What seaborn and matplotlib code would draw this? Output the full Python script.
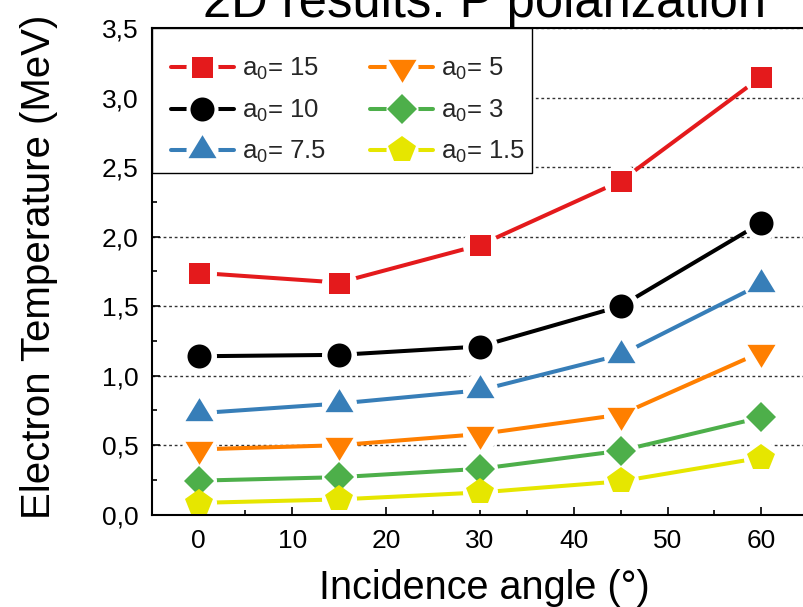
import numpy as np
import pandas as pd
import matplotlib
matplotlib.use("Agg")
import matplotlib.pyplot as plt
import seaborn as sns
from matplotlib.path import Path
from matplotlib.patches import Rectangle
from matplotlib.ticker import MultipleLocator, FuncFormatter
from matplotlib.legend_handler import HandlerTuple
from matplotlib.lines import Line2D

# ---------------- data ----------------
angles = [0, 15, 30, 45, 60]
a0_labels = ["15", "10", "7.5", "5", "3", "1.5"]
temp_a15 = [1.74, 1.67, 1.94, 2.40, 3.15]
temp_a10 = [1.14, 1.15, 1.21, 1.50, 2.10]
temp_a7_5 = [0.73, 0.80, 0.895, 1.15, 1.66]
temp_a5 = [0.47, 0.50, 0.58, 0.72, 1.17]
temp_a3 = [0.245, 0.27, 0.33, 0.46, 0.70]
temp_a1_5 = [0.085, 0.11, 0.16, 0.24, 0.41]
title = "2D results: P polarization"
xlabel = "Incidence angle (°)"
ylabel = "Electron Temperature (MeV)"

# ---------------- style ----------------
sns.set_theme(style="white")
plt.rcParams["font.family"] = ["Liberation Sans", "DejaVu Sans"]
plt.rcParams["mathtext.fontset"] = "custom"
plt.rcParams["mathtext.rm"] = "Liberation Sans"
plt.rcParams["mathtext.it"] = "Liberation Sans:italic"
plt.rcParams["mathtext.bf"] = "Liberation Sans:bold"
plt.rcParams["mathtext.default"] = "rm"

PX = 72.0 / 100.0  # points per pixel at dpi 100

tri_up = Path([(0, 15.33), (-14, -7.67), (14, -7.67), (0, 15.33)],
              [Path.MOVETO, Path.LINETO, Path.LINETO, Path.CLOSEPOLY])
tri_dn = Path([(0, -15.33), (-14, 7.67), (14, 7.67), (0, -15.33)],
              [Path.MOVETO, Path.LINETO, Path.LINETO, Path.CLOSEPOLY])

series_values = [temp_a15, temp_a10, temp_a7_5, temp_a5, temp_a3, temp_a1_5]
colors = ["#E41A1C", "#000000", "#377EB8", "#FF7F00", "#4DAF4A", "#E6E600"]
markers = ["s", "o", tri_up, tri_dn, "D", "p"]
msizes = [21 * PX, 24 * PX, 30.67 * PX, 30.67 * PX, 21.2 * PX, 28.4 * PX]
LW = 2.9
GAP = 35 * PX

fig = plt.figure(figsize=(8.04, 6.07), dpi=100)
ax = fig.add_axes([151.6 / 804, 92.3 / 607, 666 / 804, 486.5 / 607])

for vals, c in zip(series_values, colors):
    sns.lineplot(x=angles, y=vals, color=c, lw=LW, ax=ax, zorder=2,
                 errorbar=None, legend=False)
for vals in series_values:
    sns.lineplot(x=angles, y=vals, color="white", marker="o", linestyle="",
                 markersize=GAP, markeredgewidth=0, ax=ax, zorder=2.4,
                 errorbar=None, legend=False)
for vals, c, m, ms in zip(series_values, colors, markers, msizes):
    sns.lineplot(x=angles, y=vals, color=c, marker=m, linestyle="",
                 markersize=ms, markeredgewidth=0, ax=ax, zorder=3,
                 errorbar=None, legend=False, clip_on=False)

ax.set_xlim(-5, 66)
ax.set_ylim(0, 3.5)
ax.xaxis.set_major_locator(MultipleLocator(10))
ax.xaxis.set_minor_locator(MultipleLocator(5))
ax.yaxis.set_major_locator(MultipleLocator(0.5))
ax.yaxis.set_minor_locator(MultipleLocator(0.25))
ax.yaxis.set_major_formatter(FuncFormatter(lambda v, p: f"{v:.1f}".replace(".", ",")))
ax.tick_params(which="both", direction="in", top=False, right=False,
               bottom=True, left=True, color="black", width=1.2)
ax.tick_params(which="major", length=6, labelsize=19, labelcolor="black")
ax.tick_params(which="minor", length=3.5)
ax.tick_params(axis="x", which="major", pad=10.0)
ax.tick_params(axis="y", which="major", pad=9.5)

for s in ["top", "left", "bottom", "right"]:
    ax.spines[s].set_color("black")
    ax.spines[s].set_linewidth(1.5)

ax.set_axisbelow(True)
ax.yaxis.grid(True, which="major", linestyle=(0, (2, 2)), linewidth=1.0, color="#333333")
ax.xaxis.grid(False)

ax.set_xlabel(xlabel, fontsize=28.5, color="black")
ax.set_ylabel(ylabel, fontsize=29, color="black")
ax.xaxis.set_label_coords(0.5, -0.1126)
ax.yaxis.set_label_coords(-0.1405, 0.51)
ax.set_title(title, fontsize=36.5, pad=8.3, color="black")

# legend frame (white box with thin black border at the upper-left corner)
frame = Rectangle((0, 0.7024), 0.5712, 0.2976, transform=ax.transAxes,
                  facecolor="white", edgecolor="black", linewidth=1.0,
                  zorder=9, clip_on=False)
ax.add_patch(frame)

handles = []
for c, m, ms in zip(colors, markers, msizes):
    h_line = Line2D([], [], color=c, lw=LW)
    h_gap = Line2D([], [], color="white", marker="o", linestyle="", markersize=32 * PX,
                   markeredgewidth=0)
    h_mark = Line2D([], [], color=c, marker=m, linestyle="", markersize=ms,
                    markeredgewidth=0)
    handles.append((h_line, h_gap, h_mark))
labels = [f"a$_0$= {v}" for v in a0_labels]
leg = ax.legend(handles, labels, handler_map={tuple: HandlerTuple(ndivide=1, pad=0)},
                ncol=2, loc="upper left", bbox_to_anchor=(0.0291, 0.943),
                borderaxespad=0, borderpad=0,
                fontsize=18.5, handlelength=2.45, handletextpad=0.31,
                columnspacing=1.72, labelspacing=0.6,
                frameon=False, numpoints=1)
leg.set_zorder(10)

fig.savefig("out.png", dpi=100)
